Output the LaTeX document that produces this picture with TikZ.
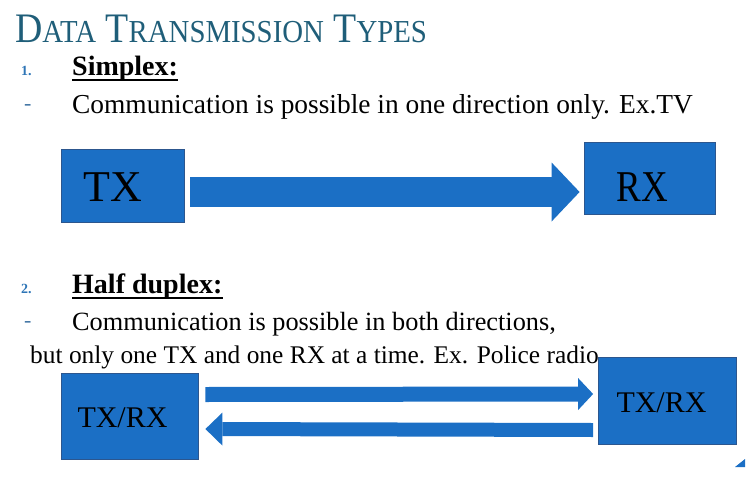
\documentclass[tikz,border=0pt]{standalone}
\usepackage{fontspec}
\setmainfont{Liberation Serif}
\usetikzlibrary{arrows.meta}
\usetikzlibrary{calc}

\definecolor{titleteal}{RGB}{31,94,121}
\definecolor{boxblue}{RGB}{27,111,197}
\definecolor{boxedge}{RGB}{44,86,142}
\definecolor{bulletblue}{RGB}{46,117,182}

% fake small caps for the title
\newcommand{\capL}[1]{{\fontsize{42}{42}\selectfont #1}}
\newcommand{\capS}[1]{{\fontsize{32}{32}\selectfont #1}}

\begin{document}
\begin{tikzpicture}[x=1pt, y=-1pt,
	txt/.style={anchor=base west, inner sep=0pt, font=\fontsize{#1}{#1}\selectfont},
	head/.style={anchor=base west, inner sep=0pt, font=\fontsize{28}{28}\selectfont\bfseries},
	num/.style={anchor=base west, inner sep=0pt, text=bulletblue, font=\fontsize{14}{14}\selectfont\bfseries},
	bulletdash/.style={anchor=base west, inner sep=0pt, text=bulletblue!70!gray, font=\fontsize{22}{22}\selectfont},
	box/.style={draw=boxedge, line width=0.8pt, fill=boxblue, inner sep=0pt},
	boxtext/.style={inner sep=0pt, text=black, font=\fontsize{#1}{#1}\selectfont},
	fatarrow/.style n args={3}{draw=boxblue, line width=#1pt, -{Triangle[length=#3pt, width=#2pt, line width=0pt]}}
	]
	\useasboundingbox (0,0) rectangle (755,479);

	% title
	\node[anchor=base west, inner sep=0pt, text=titleteal] (title) at (15,42)
		{\scalebox{0.9}[1]{\capL{D}\capS{ATA}\capL{ T}\capS{RANSMISSION}\capL{ T}\capS{YPES}}};

	% 1. simplex
	\node[num] (n1) at (21,75) {1.};
	\node[head] (simplex) at (72,75) {Simplex:};
	\draw[line width=1.4pt] ($(simplex.base west)+(0,5)$) -- ($(simplex.base east)+(0,5)$);
	\node[bulletdash] (d1) at (24,110) {-};
	\node[txt=27.4] (line1) at (72,113) {Communication is possible in one direction only. Ex.TV};

	\node[box, minimum width=123pt, minimum height=73pt] (tx) at (122.5,185.5) {};
	\node[box, minimum width=131pt, minimum height=72pt] (rx) at (649.5,178) {};
	\node[boxtext=44] (txlabel) at ($(tx)+(-10,2)$) {TX};
	\node[boxtext=44] (rxlabel) at ($(rx)+(-7,9)$) {\scalebox{0.84}[1]{RX}};
	\draw[fatarrow={30}{59}{28}] ($(tx.east)+(6,6.5)$) -- ($(rx.west)+(-4,14)$);

	% 2. half duplex
	\node[num] (n2) at (21,293) {2.};
	\node[head] (halfdup) at (72,293) {Half duplex:};
	\draw[line width=1.4pt] ($(halfdup.base west)+(0,5)$) -- ($(halfdup.base east)+(0,5)$);
	\node[bulletdash] (d2) at (24,327) {-};
	\node[txt=26.3] (line2) at (72,330) {Communication is possible in both directions,};
	\node[txt=25.4] (line3) at (30,363) {but only one TX and one RX at a time. Ex. Police radio};

	\node[box, minimum width=137pt, minimum height=86pt] (trl) at (129.5,416) {};
	\node[box, minimum width=138pt, minimum height=87pt] (trr) at (667.5,400.5) {};
	\node[boxtext=30] (trllabel) at ($(trl)+(-7,2)$) {TX/RX};
	\node[boxtext=30] (trrlabel) at ($(trr)+(-6,2)$) {TX/RX};
	\draw[fatarrow={15}{32}{15}] ($(trl.east)+(7,-21.5)$) -- ($(trr.west)+(-5,-6.5)$);
	\draw[fatarrow={14}{33}{17}] ($(trr.west)+(-5,29.5)$) -- ($(trl.east)+(7,13)$);

	% clipped corner of the slide
	\fill[boxblue] (735,467) -- (745,459) -- (745,467) -- cycle;
\end{tikzpicture}
\end{document}
